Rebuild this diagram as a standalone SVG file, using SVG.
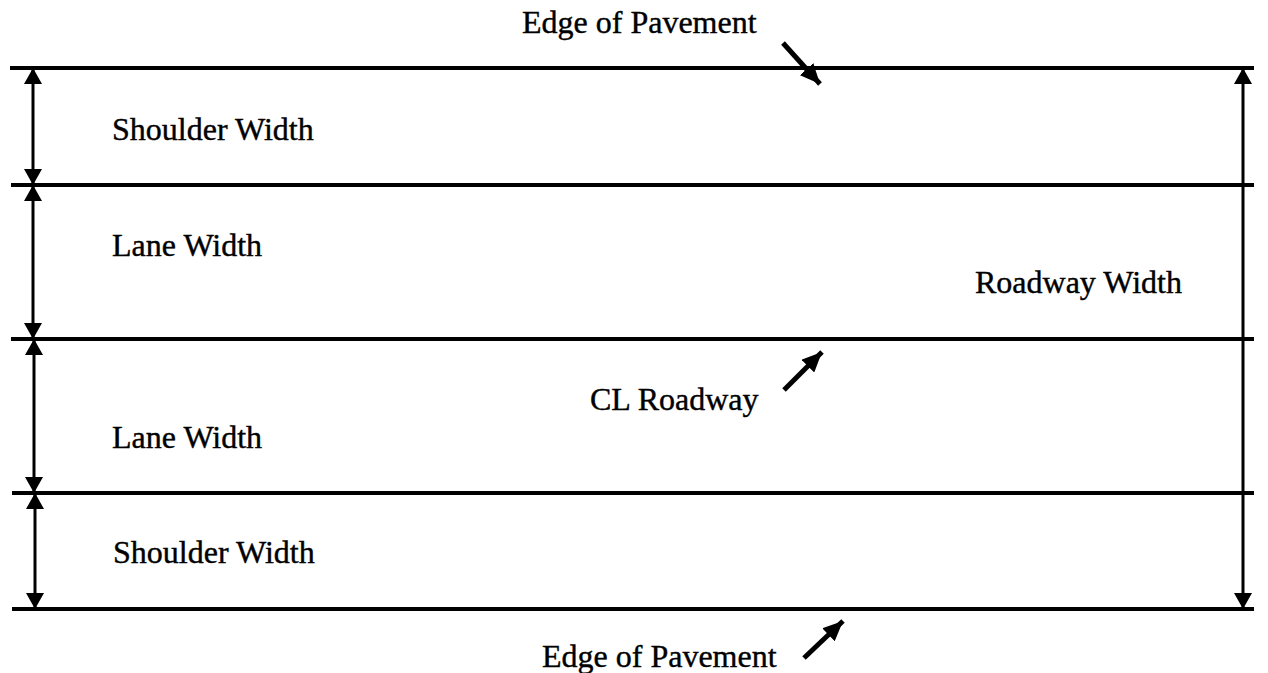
<svg xmlns="http://www.w3.org/2000/svg" width="1268" height="673" viewBox="0 0 1268 673">
<style>
.lbl{font-family:"Liberation Serif","Times New Roman",serif;font-size:32px;fill:#000;stroke:#000;stroke-width:0.4}
.edge{stroke:#000;stroke-width:4;fill:none}
.dim{stroke:#000;stroke-width:3;fill:none;marker-start:url(#ah);marker-end:url(#ah)}
.ptr{stroke:#000;stroke-width:5;fill:none;marker-end:url(#ph)}
</style>
<defs>
<marker id="ah" markerUnits="userSpaceOnUse" viewBox="0 0 16 18" refX="16" refY="9" markerWidth="16" markerHeight="18" orient="auto-start-reverse">
<path d="M0,0 L16,9 L0,18 Z" fill="#000"/>
</marker>
<marker id="ph" markerUnits="userSpaceOnUse" viewBox="0 0 20 18" refX="20" refY="9" markerWidth="20" markerHeight="18" orient="auto">
<path d="M0,0 L20,9 L0,18 Z" fill="#000"/>
</marker>
</defs>
<rect width="1268" height="673" fill="#fff"/>
<g id="road-lines">
<line class="edge" x1="10" y1="68" x2="1254" y2="68"/>
<line class="edge" x1="11" y1="185" x2="1254" y2="185"/>
<line class="edge" x1="11" y1="339" x2="1254" y2="339"/>
<line class="edge" x1="12" y1="493" x2="1254" y2="493"/>
<line class="edge" x1="12" y1="609" x2="1254" y2="609"/>
</g>
<g id="connectors">
<line class="dim" x1="33" y1="68" x2="33" y2="185"/>
<line class="dim" x1="33" y1="185" x2="33" y2="339"/>
<line class="dim" x1="34" y1="339" x2="34" y2="493"/>
<line class="dim" x1="35" y1="493" x2="35" y2="609"/>
<line class="dim" x1="1243" y1="68" x2="1243" y2="609"/>
<line class="ptr" x1="783" y1="43" x2="820" y2="84"/>
<line class="ptr" x1="784" y1="390" x2="822" y2="352"/>
<line class="ptr" x1="804" y1="658" x2="843" y2="621"/>
</g>
<g id="labels">
<text class="lbl" x="522" y="33">Edge of Pavement</text>
<text class="lbl" x="112" y="140">Shoulder Width</text>
<text class="lbl" x="112" y="256">Lane Width</text>
<text class="lbl" x="975" y="293">Roadway Width</text>
<text class="lbl" x="590" y="410">CL Roadway</text>
<text class="lbl" x="112" y="448">Lane Width</text>
<text class="lbl" x="113" y="563">Shoulder Width</text>
<text class="lbl" x="542" y="667">Edge of Pavement</text>
</g>
</svg>
